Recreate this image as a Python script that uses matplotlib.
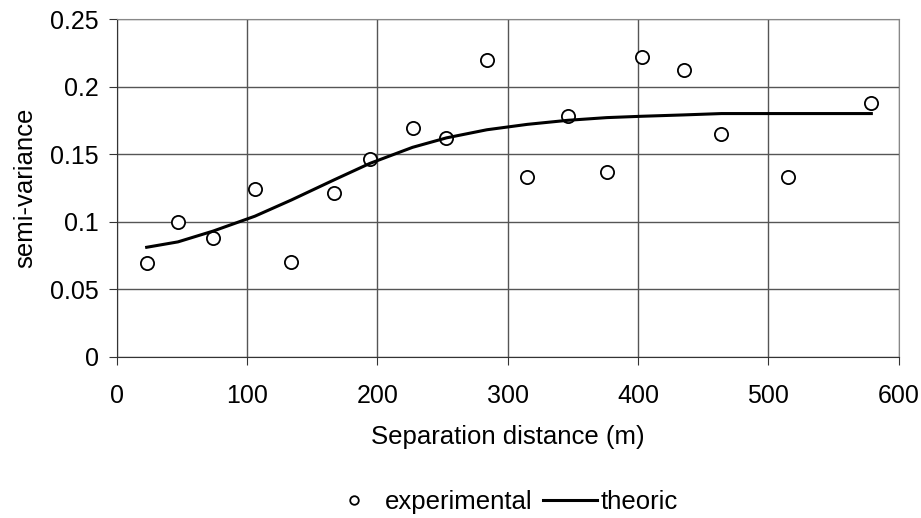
import numpy as np
import matplotlib.pyplot as plt

plt.rcParams['font.family'] = ['Liberation Sans', 'DejaVu Sans']

# experimental semi-variogram
lag = [23, 47, 74, 106, 134, 167, 194, 227, 253, 284, 315, 346, 376, 403, 435, 464, 515, 579]
gamma_exp = [0.069, 0.100, 0.088, 0.124, 0.070, 0.121, 0.146, 0.169, 0.162, 0.220,
             0.133, 0.178, 0.137, 0.222, 0.212, 0.165, 0.133, 0.188]
# fitted model at the same lags
gamma_fit = [0.081, 0.085, 0.093, 0.104, 0.116, 0.131, 0.143, 0.155, 0.162, 0.168,
             0.172, 0.175, 0.177, 0.178, 0.179, 0.180, 0.180, 0.180]

fig = plt.figure(figsize=(9.21, 5.18), dpi=100)
ax = fig.add_axes([0.1267, 0.3114, 0.8491, 0.6519])

ax.plot(lag, gamma_exp, 'o', mfc='white', mec='black', mew=1.3, ms=9.5, label='experimental')
ax.plot(lag, gamma_fit, '-', color='black', lw=2.2, label='theoric')

ax.set_xlim(0, 600)
ax.set_ylim(0, 0.25)
ax.set_xticks(np.arange(0, 601, 100))
ax.set_yticks([0, 0.05, 0.1, 0.15, 0.2, 0.25])
ax.set_yticklabels(['0', '0.05', '0.1', '0.15', '0.2', '0.25'])
ax.grid(True, color='#555555', lw=1)
ax.set_axisbelow(True)
for s in ax.spines.values():
    s.set_color('#888888')
ax.spines['left'].set_color('#333333')
ax.spines['bottom'].set_color('#333333')
ax.tick_params(labelsize=18, length=6, color='#333333')
ax.tick_params(axis='x', pad=14)
ax.tick_params(axis='y', pad=7)

ax.set_xlabel('Separation distance (m)', fontsize=18.5, labelpad=12)
ax.set_ylabel('semi-variance', fontsize=18.5, labelpad=9)

fig.legend(loc='center', bbox_to_anchor=(0.546, 0.031), ncol=2, frameon=False,
           fontsize=18.5, markerscale=0.65, handlelength=2.1, handletextpad=0.15,
           columnspacing=0.4, borderpad=0)

fig.savefig('out.png', dpi=100)
